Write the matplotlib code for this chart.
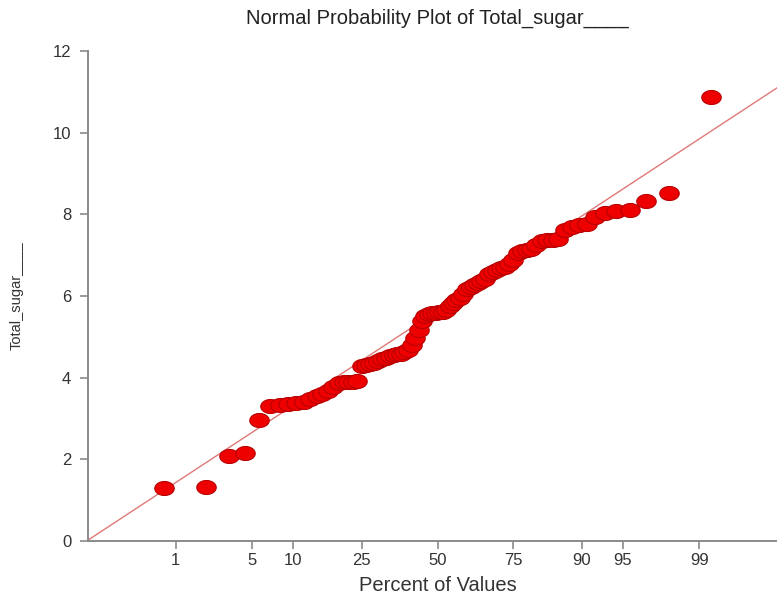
import numpy as np
import matplotlib
matplotlib.use("Agg")
import matplotlib.pyplot as plt
from matplotlib.path import Path
from statistics import NormalDist

# Sorted sample of Total_sugar (n = 82)
total_sugar = [
    1.30, 1.32, 2.08, 2.16, 2.97,
    3.31, 3.33, 3.36, 3.38, 3.40, 3.47, 3.55, 3.60, 3.68, 3.78,
    3.86, 3.89, 3.89, 3.90, 3.92,
    4.28, 4.31, 4.34, 4.37, 4.41, 4.46, 4.49, 4.52, 4.55, 4.57,
    4.59, 4.62, 4.68, 4.80, 4.98, 5.17, 5.40, 5.52, 5.56, 5.58,
    5.59, 5.61, 5.62, 5.65, 5.76, 5.84, 5.90, 5.95, 6.05, 6.18,
    6.22, 6.27, 6.31, 6.36, 6.42, 6.55, 6.60, 6.64, 6.68, 6.72,
    6.78, 6.88, 7.05, 7.10, 7.12, 7.14, 7.25, 7.34, 7.36, 7.38,
    7.40, 7.62, 7.70, 7.74, 7.76, 7.93, 8.03, 8.10, 8.09, 8.33,
    8.52, 10.87,
]

# Reference normal line parameters
line_mean = 5.64
line_sd = 1.81

percent_ticks = [1, 5, 10, 25, 50, 75, 90, 95, 99]
y_ticks = [0, 2, 4, 6, 8, 10, 12]

nd = NormalDist()
values = np.array(sorted(total_sugar))
n = len(values)
ranks = np.arange(1, n + 1)
# Blom plotting positions mapped to normal quantiles
z = np.array([nd.inv_cdf((r - 0.375) / (n + 0.25)) for r in ranks])

plt.rcParams["font.family"] = ["Liberation Sans", "DejaVu Sans"]

W, H = 777, 598
fig = plt.figure(figsize=(W / 100, H / 100), dpi=100)
ax_left, ax_right, ax_top, ax_bottom = 88, 777, 51, 541
ax = fig.add_axes([ax_left / W, 1 - ax_bottom / H,
                   (ax_right - ax_left) / W, (ax_bottom - ax_top) / H])

xmin, xmax = -3.104, 3.015
ax.set_xlim(xmin, xmax)
ax.set_ylim(0, 12)

# fitted normal reference line
xl = np.array([xmin, xmax + 0.2])
ax.plot(xl, line_mean + line_sd * xl, color="#e07878", lw=1.0, zorder=2)

# slightly wide elliptical marker
t = np.linspace(0, 2 * np.pi, 60)
ell = Path(np.column_stack([np.cos(t), 0.72 * np.sin(t)]), closed=True)
ax.plot(z, values, linestyle="none", marker=ell, markersize=14,
        markerfacecolor="#ee0000", markeredgecolor="#b80000",
        markeredgewidth=0.8, zorder=3, clip_on=False)

ax.set_xticks([nd.inv_cdf(p / 100) for p in percent_ticks])
ax.set_xticklabels([str(p) for p in percent_ticks])
ax.set_yticks(y_ticks)
ax.set_yticklabels([str(v) for v in y_ticks])

for side in ("top", "right"):
    ax.spines[side].set_visible(False)
for side in ("left", "bottom"):
    ax.spines[side].set_color("#8a8a8a")
    ax.spines[side].set_linewidth(1.4)

ax.tick_params(axis="both", colors="#8a8a8a", width=1.2, length=6,
               labelcolor="#333333", labelsize=12)
ax.tick_params(axis="x", pad=2.5)
ax.tick_params(axis="y", pad=6)

ax.set_xlabel("Percent of Values", fontsize=14.5, color="#333333")
ax.xaxis.set_label_coords((437.5 - ax_left) / (ax_right - ax_left),
                          -(576 - ax_bottom) / (ax_bottom - ax_top))
ax.set_ylabel("Total_sugar____", fontsize=10.5, color="#333333")
ax.yaxis.set_label_coords(-(ax_left - 24) / (ax_right - ax_left), 0.5)

fig.text(437.5 / W, 1 - 18 / H, "Normal Probability Plot of Total_sugar____",
         ha="center", va="center", fontsize=14.5, color="#222222")

fig.savefig("out.png", dpi=100)
